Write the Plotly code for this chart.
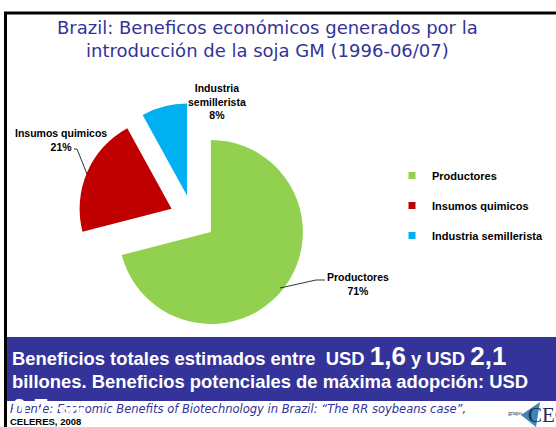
import plotly.graph_objects as go

# ---------------- data ----------------
categories = ["Productores", "Insumos quimicos", "Industria semillerista"]
shares = [71, 21, 8]
colors = ["#92D050", "#C00000", "#00B0F0"]

title_lines = ["Brazil: Beneficos económicos generados por la",
               "introducción de la soja GM (1996-06/07)"]
low_estimate = "1,6"
high_estimate = "2,1"
potential = "0,7"
source_text = "Fuente: Economic Benefits of Biotechnology in Brazil: \u201cThe RR soybeans case\u201d,"
source_org = "CELERES, 2008"

# ---------------- layout helpers ----------------
W, H = 556, 427
def X(px):
    return px / W
def Y(py):
    return 1 - py / H

NAVY = "#333399"
ARIAL = "Liberation Sans, Arial, sans-serif"
VERD = "DejaVu Sans, Verdana, sans-serif"

pull = 0.25
cx, cy, r = 192.7, 217.9, 92.0
half = r * (1 + pull)

fig = go.Figure()
fig.add_trace(go.Pie(
    labels=categories, values=shares, sort=False, direction="clockwise", rotation=0,
    marker=dict(colors=colors, line=dict(width=0)),
    pull=[pull] * len(shares), textinfo="none", showlegend=False,
    domain=dict(x=[X(cx - half), X(cx + half)], y=[Y(cy + half), Y(cy - half)]),
))

# legend entries (one group per category so they can be spaced like the original)
for name, col in zip(categories, colors):
    fig.add_trace(go.Scatter(x=[None], y=[None], mode="markers", name=f"<b>{name}</b>",
                             legendgroup=name,
                             marker=dict(symbol="square", size=7, color=col)))

shapes = []
# slide frame
shapes.append(dict(type="line", xref="paper", yref="paper", x0=X(4), x1=X(556), y0=Y(13), y1=Y(13),
                   line=dict(color="black", width=3)))
shapes.append(dict(type="line", xref="paper", yref="paper", x0=X(5.5), x1=X(5.5), y0=Y(12), y1=Y(427),
                   line=dict(color="black", width=3)))
# blue summary box
shapes.append(dict(type="rect", xref="paper", yref="paper", x0=X(7), x1=X(556), y0=Y(402), y1=Y(337),
                   fillcolor=NAVY, line=dict(width=0), layer="above"))
# white footer band
shapes.append(dict(type="rect", xref="paper", yref="paper", x0=X(7), x1=X(556), y0=Y(427), y1=Y(401),
                   fillcolor="white", line=dict(width=0), layer="above"))
# leader lines
shapes.append(dict(type="path", xref="paper", yref="paper",
                   path=f"M {X(74)} {Y(149)} L {X(77)} {Y(149)} L {X(87)} {Y(174)}",
                   line=dict(color="black", width=0.8), layer="above"))
shapes.append(dict(type="path", xref="paper", yref="paper",
                   path=f"M {X(280)} {Y(288)} L {X(316)} {Y(280)} L {X(325)} {Y(280)}",
                   line=dict(color="black", width=0.8), layer="above"))
# logo mark
shapes.append(dict(type="path", xref="paper", yref="paper",
                   path=f"M {X(521)} {Y(415)} L {X(540)} {Y(402)} L {X(536)} {Y(427)} Z",
                   fillcolor="#3f86b8", line=dict(width=0), layer="above"))

ann = []
# slice labels
label_pos = [(358, 284), (61, 140), (217, 101)]
for name, v, (lx, ly) in zip(categories, shares, label_pos):
    txt = name.replace("Industria ", "Industria<br>") + f"<br>{v}%"
    ann.append(dict(x=X(lx), y=Y(ly), xref="paper", yref="paper", showarrow=False,
                    text=f"<b>{txt}</b>", font=dict(family=ARIAL, size=10.5, color="black"),
                    xanchor="center", yanchor="middle", align="center"))
# title
for i, line in enumerate(title_lines):
    ann.append(dict(x=X(267), y=Y(28 + 22 * i), xref="paper", yref="paper", showarrow=False,
                    text=line, font=dict(family=VERD, size=18, color=NAVY),
                    xanchor="center", yanchor="middle", align="center"))
# footer
ann.append(dict(x=X(8), y=Y(409), xref="paper", yref="paper", showarrow=False,
                text=f"<i>{source_text}</i>", font=dict(family=VERD, size=11.5, color=NAVY),
                xanchor="left", yanchor="middle"))
ann.append(dict(x=X(515), y=Y(413), xref="paper", yref="paper", showarrow=False,
                text="grupo", font=dict(family="Liberation Serif, serif", size=6, color="#222244"),
                xanchor="center", yanchor="middle"))
ann.append(dict(x=X(526), y=Y(415), xref="paper", yref="paper", showarrow=False,
                text="CEC", font=dict(family="Liberation Serif, serif", size=21, color="#1c2a5a"),
                xanchor="left", yanchor="middle"))
# summary text (white)
big = lambda s: f"<span style='font-size:26px'>{s}</span>"
ann.append(dict(x=X(10), y=Y(356), xref="paper", yref="paper", showarrow=False,
                text=f"<b>Beneficios totales estimados entre  USD {big(low_estimate)} y USD {big(high_estimate)}</b>",
                font=dict(family=ARIAL, size=18.4, color="white"),
                xanchor="left", yanchor="middle"))
ann.append(dict(x=X(10), y=Y(381), xref="paper", yref="paper", showarrow=False,
                text="<b>billones. Beneficios potenciales de máxima adopción: USD</b>",
                font=dict(family=ARIAL, size=18.4, color="white"),
                xanchor="left", yanchor="middle"))
ann.append(dict(x=X(10), y=Y(408), xref="paper", yref="paper", showarrow=False,
                text=f"<b>{big(potential)} mm</b>",
                font=dict(family=ARIAL, size=18.4, color="white"),
                xanchor="left", yanchor="middle"))
# source organisation (on top)
ann.append(dict(x=X(8), y=Y(421), xref="paper", yref="paper", showarrow=False,
                text=f"<b>{source_org}</b>", font=dict(family=ARIAL, size=9.5, color="black"),
                xanchor="left", yanchor="middle"))

fig.update_layout(
    width=W, height=H, margin=dict(l=0, r=0, t=0, b=0),
    paper_bgcolor="white", plot_bgcolor="rgba(0,0,0,0)",
    xaxis=dict(visible=False), yaxis=dict(visible=False),
    shapes=shapes, annotations=ann,
    legend=dict(x=X(392), y=Y(161), xanchor="left", yanchor="top",
                traceorder="grouped", tracegroupgap=11,
                font=dict(family=ARIAL, size=11, color="black"),
                bgcolor="rgba(0,0,0,0)"),
    hovermode=False,
)

fig.write_html("out.html", config={"displayModeBar": False},
               post_script="document.body.style.margin='0';")
